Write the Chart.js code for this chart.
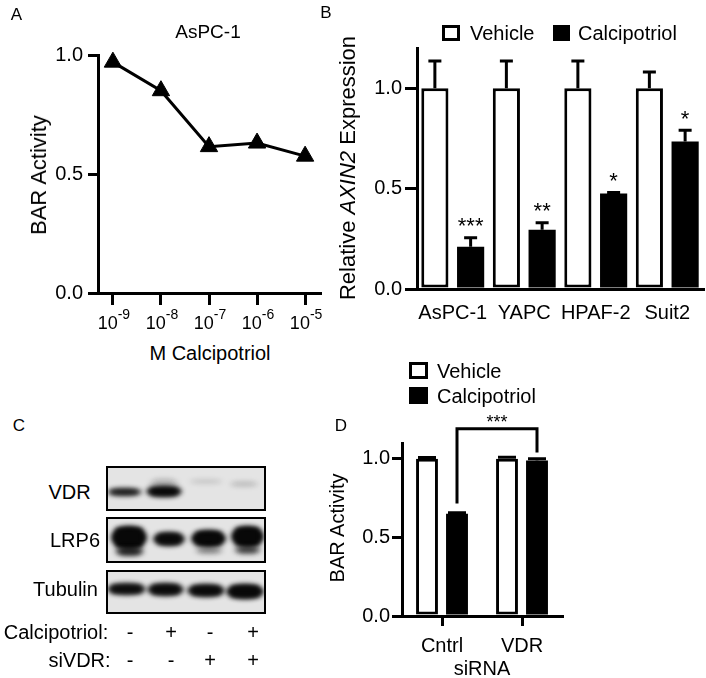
<!DOCTYPE html>
<html>
<head>
<meta charset="utf-8">
<script src="https://cdn.jsdelivr.net/npm/chart.js@4.4.0/dist/chart.umd.min.js"></script>
<style>
  body { margin: 0; background: #fff; }
  #fig { position: relative; width: 706px; height: 678px; overflow: hidden;
         font-family: "Liberation Sans", Arial, sans-serif; color: #000; }
  canvas { position: absolute; }
  .t { position: absolute; white-space: nowrap; line-height: 1; }
  .sq { position: absolute; box-sizing: border-box; border: 3px solid #000; }
</style>
</head>
<body>
<div id="fig">
  <canvas id="blot" width="175" height="160" style="left:100px;top:460px"></canvas>
  <canvas id="chartA" width="340" height="340" style="left:0;top:0"></canvas>
  <canvas id="chartB" width="366" height="340" style="left:340px;top:0"></canvas>
  <canvas id="chartD" width="366" height="338" style="left:340px;top:340px"></canvas>
</div>
<script>
// A: BAR activity vs calcipotriol dose (AsPC-1)
const doseExp = [-9, -8, -7, -6, -5];
const doseBase = '10';
const barActivityA = [0.97, 0.85, 0.615, 0.63, 0.575];
const yTicksA = [0, 0.5, 1.0];

// B: relative AXIN2 expression
const cellLines = ['AsPC-1', 'YAPC', 'HPAF-2', 'Suit2'];
const axinVehicle = [1, 1, 1, 1];
const axinVehicleErr = [0.135, 0.135, 0.135, 0.08];
const axinCalci = [0.21, 0.295, 0.475, 0.735];
const axinCalciErr = [0.045, 0.035, 0.006, 0.055];
const axinStars = ['***', '**', '*', '*'];
const yTicksB = [0, 0.5, 1.0];

// C: western blot lanes
const blotRows = ['VDR', 'LRP6', 'Tubulin'];
const calciSigns = ['-', '+', '-', '+'];
const siVDRSigns = ['-', '-', '+', '+'];

// D: BAR activity with siRNA
const sirnaGroups = ['Cntrl', 'VDR'];
const barVehicleD = [1, 1];
const barVehicleDErr = [0.008, 0.01];
const barCalciD = [0.65, 0.988];
const barCalciDErr = [0.006, 0.012];
const bracketEnds = [0.715, 1.04];
const bracketTop = 1.19;
const bracketLabel = '***';
const yTicksD = [0, 0.5, 1.0];

Chart.defaults.font.family = '"Liberation Sans", Arial, sans-serif';
Chart.defaults.font.size = 20;
Chart.defaults.color = '#000';
Chart.defaults.animation = false;
Chart.defaults.responsive = false;
Chart.defaults.plugins.legend.display = false;
Chart.defaults.plugins.tooltip.enabled = false;

function fixWidth(w) {
  return function(s) { s.width = w; s.paddingLeft = s.paddingRight = s.paddingTop = s.paddingBottom = 0; };
}
function fixHeight(h) {
  return function(s) { s.height = h; s.paddingLeft = s.paddingRight = s.paddingTop = s.paddingBottom = 0; };
}
function setTicks(list) {
  return function(s) { s.ticks = list.map(v => ({value: v})); };
}
function axisGrid(len, draw) {
  return {drawOnChartArea: false, drawTicks: draw, tickLength: len, tickWidth: 3,
          tickColor: '#000', lineWidth: 3, color: '#000'};
}
function yAxis(max, ticks, w, len, pad) {
  return {
    min: 0, max: max,
    afterBuildTicks: setTicks(ticks),
    afterFit: fixWidth(w),
    ticks: {callback: v => v.toFixed(1), padding: pad},
    grid: axisGrid(len, true),
    border: {width: 3, color: '#000'}
  };
}

const errorBars = {
  id: 'errorBars',
  afterDatasetsDraw(chart, args, opts) {
    const ctx = chart.ctx, y = chart.scales.y;
    chart.data.datasets.forEach((ds, i) => {
      if (!ds.errors) return;
      chart.getDatasetMeta(i).data.forEach((bar, j) => {
        const top = y.getPixelForValue(ds.data[j] + ds.errors[j]);
        ctx.save();
        ctx.strokeStyle = '#000';
        ctx.lineWidth = 3;
        ctx.beginPath();
        ctx.moveTo(bar.x, bar.y);
        ctx.lineTo(bar.x, top);
        ctx.moveTo(bar.x - opts.cap / 2, top);
        ctx.lineTo(bar.x + opts.cap / 2, top);
        ctx.stroke();
        if (ds.stars) {
          ctx.fillStyle = '#000';
          ctx.font = opts.starFont;
          ctx.textAlign = 'center';
          ctx.textBaseline = 'alphabetic';
          ctx.fillText(ds.stars[j], bar.x, top - opts.starGap);
        }
        ctx.restore();
      });
    });
  }
};

// power-of-ten labels under the dose axis
const powerLabels = {
  id: 'powerLabels',
  afterDraw(chart) {
    const ctx = chart.ctx, x = chart.scales.x;
    const base = x.top + 36;
    ctx.save();
    ctx.fillStyle = '#000';
    ctx.textBaseline = 'alphabetic';
    ctx.textAlign = 'left';
    doseExp.forEach(e => {
      const exp = String(e);
      ctx.font = '18px "Liberation Sans", Arial';
      const w1 = ctx.measureText(doseBase).width;
      ctx.font = '14px "Liberation Sans", Arial';
      const w2 = ctx.measureText(exp).width;
      const left = x.getPixelForValue(e) - (w1 + w2) / 2 + 1;
      ctx.font = '18px "Liberation Sans", Arial';
      ctx.fillText(doseBase, left, base);
      ctx.font = '14px "Liberation Sans", Arial';
      ctx.fillText(exp, left + w1, base - 10);
    });
    ctx.restore();
  }
};

// panel A
new Chart(document.getElementById('chartA'), {
  type: 'line',
  data: {
    datasets: [{
      data: doseExp.map((x, i) => ({x: x, y: barActivityA[i]})),
      borderColor: '#000',
      borderWidth: 3,
      pointStyle: 'triangle',
      pointRadius: 10,
      pointBackgroundColor: '#000',
      pointBorderColor: '#000',
      pointBorderWidth: 1,
      clip: false
    }]
  },
  options: {
    layout: {padding: {top: 55, right: 20, left: 0, bottom: 0}},
    scales: {
      x: {
        type: 'linear', min: -9.31, max: -4.69,
        afterBuildTicks: setTicks(doseExp),
        afterFit: fixHeight(47),
        ticks: {display: false},
        grid: axisGrid(12, true),
        border: {width: 3, color: '#000'}
      },
      y: yAxis(1.0, yTicksA, 98, 10, 5)
    }
  },
  plugins: [powerLabels]
});

// panel B
new Chart(document.getElementById('chartB'), {
  type: 'bar',
  data: {
    labels: cellLines,
    datasets: [
      {label: 'Vehicle', data: axinVehicle, errors: axinVehicleErr,
       backgroundColor: '#fff', borderColor: '#000', borderWidth: 3, borderSkipped: false,
       categoryPercentage: 1.0, barPercentage: 0.76},
      {label: 'Calcipotriol', data: axinCalci, errors: axinCalciErr, stars: axinStars,
       backgroundColor: '#000', borderWidth: 0,
       categoryPercentage: 1.0, barPercentage: 0.76}
    ]
  },
  options: {
    layout: {padding: {top: 48, right: 3, left: 0, bottom: 0}},
    plugins: {errorBars: {cap: 13, starGap: 4.5, starFont: '22px "Liberation Sans", Arial'}},
    scales: {
      x: {
        afterFit: fixHeight(51),
        ticks: {padding: 12, maxRotation: 0, autoSkip: false},
        grid: axisGrid(0, false),
        border: {width: 3, color: '#000'}
      },
      y: yAxis(1.2, yTicksB, 77, 12, 3)
    }
  },
  plugins: [errorBars]
});

// panel D
const bracketD = {
  id: 'bracketD',
  afterDatasetsDraw(chart) {
    const ctx = chart.ctx, y = chart.scales.y;
    const bars = chart.getDatasetMeta(1).data;
    const xl = bars[0].x, xr = bars[1].x;
    const yt = y.getPixelForValue(bracketTop);
    ctx.save();
    ctx.strokeStyle = '#000';
    ctx.lineWidth = 3;
    ctx.beginPath();
    ctx.moveTo(xl, y.getPixelForValue(bracketEnds[0]));
    ctx.lineTo(xl, yt);
    ctx.lineTo(xr, yt);
    ctx.lineTo(xr, y.getPixelForValue(bracketEnds[1]));
    ctx.stroke();
    ctx.fillStyle = '#000';
    ctx.font = '18px "Liberation Sans", Arial';
    ctx.textAlign = 'center';
    ctx.textBaseline = 'alphabetic';
    ctx.fillText(bracketLabel, (xl + xr) / 2, yt - 1);
    ctx.restore();
  }
};

new Chart(document.getElementById('chartD'), {
  type: 'bar',
  data: {
    labels: sirnaGroups,
    datasets: [
      {label: 'Vehicle', data: barVehicleD, errors: barVehicleDErr,
       backgroundColor: '#fff', borderColor: '#000', borderWidth: 3, borderSkipped: false,
       categoryPercentage: 0.75, barPercentage: 0.73},
      {label: 'Calcipotriol', data: barCalciD, errors: barCalciDErr,
       backgroundColor: '#000', borderWidth: 0,
       categoryPercentage: 0.75, barPercentage: 0.73}
    ]
  },
  options: {
    layout: {padding: {top: 103, right: 144, left: 0, bottom: 0}},
    plugins: {errorBars: {cap: 18, starGap: 0, starFont: '18px "Liberation Sans", Arial'}},
    scales: {
      x: {
        afterFit: fixHeight(62),
        ticks: {padding: 8, maxRotation: 0, autoSkip: false},
        grid: Object.assign(axisGrid(10, true), {offset: false}),
        border: {width: 3, color: '#000'}
      },
      y: yAxis(1.1, yTicksD, 62, 10, 2)
    }
  },
  plugins: [errorBars, bracketD]
});

// panel C: blot picture
const g = document.getElementById('blot').getContext('2d');
g.translate(-100, -460);
const boxes = [[467, 510], [518, 562], [571, 613]];
const bands = [
  // VDR
  [108, 489, 33, 6, 0.8], [147, 487, 34, 9, 0.95], [150, 479, 28, 10, 0.12],
  [190, 480, 32, 3, 0.1], [230, 482, 28, 4, 0.12],
  // LRP6
  [112, 527, 34, 21, 1], [116, 548, 27, 7, 0.7], [154, 533, 30, 12, 0.95],
  [192, 531, 33, 15, 1], [196, 548, 26, 5, 0.3], [232, 527, 31, 19, 1], [235, 547, 25, 6, 0.55],
  // Tubulin
  [108, 584, 37, 10, 0.88], [148, 584, 35, 11, 0.9], [188, 585, 36, 11, 0.92], [227, 585, 36, 13, 0.97]
];
boxes.forEach(b => {
  g.fillStyle = '#e4e4e4';
  g.fillRect(107, b[0], 158, b[1] - b[0]);
});
g.save();
g.beginPath();
boxes.forEach(b => g.rect(107, b[0], 158, b[1] - b[0]));
g.clip();
g.filter = 'blur(2.4px)';
bands.forEach(b => {
  g.fillStyle = 'rgba(8,8,8,' + b[4] + ')';
  g.beginPath();
  g.ellipse(b[0] + b[2] / 2, b[1] + b[3] / 2, b[2] / 2 + 1, b[3] / 2 + 1, 0, 0, Math.PI * 2);
  g.fill();
  g.fillRect(b[0] + 4, b[1] + 1, b[2] - 8, b[3] - 2);
});
g.restore();
g.strokeStyle = '#000';
g.lineWidth = 2;
boxes.forEach(b => g.strokeRect(107, b[0], 158, b[1] - b[0]));

// text
const fig = document.getElementById('fig');
function put(html, x, y, size, mode) {
  const d = document.createElement('div');
  d.className = 't';
  d.innerHTML = html;
  d.style.left = x + 'px';
  d.style.top = y + 'px';
  d.style.fontSize = size + 'px';
  let tf = 'translate(-50%,-50%)';
  if (mode === 'left') tf = 'translate(0,-50%)';
  if (mode === 'rot') tf += ' rotate(-90deg)';
  d.style.transform = tf;
  fig.appendChild(d);
}
function square(x, y, w, h, fill) {
  const d = document.createElement('div');
  d.className = 'sq';
  d.style.cssText = 'left:' + x + 'px;top:' + y + 'px;width:' + w + 'px;height:' + h + 'px;background:' + fill;
  fig.appendChild(d);
}

put('A', 16.5, 13.5, 17);
put('B', 326, 11.5, 17);
put('C', 19, 425, 17);
put('D', 341, 425, 17);

put('AsPC-1', 208, 31, 19);
put('M Calcipotriol', 210, 353, 20);
put('BAR Activity', 38.5, 175, 22, 'rot');

put('Relative <i>AXIN2</i> Expression', 348, 168, 22, 'rot');
square(442, 25, 18, 16, '#fff');
put('Vehicle', 470, 32.5, 20, 'left');
square(553, 25, 17, 16, '#000');
put('Calcipotriol', 578, 32.5, 20, 'left');

const rowCenters = [[69.5, 491.5], [75, 540], [65.5, 588.5]];
blotRows.forEach((r, i) => put(r, rowCenters[i][0], rowCenters[i][1], 20));
put('Calcipotriol:', 56, 632, 20);
put('siVDR:', 79.5, 660, 20);
const laneX = [130, 171, 210, 253];
calciSigns.forEach((s, i) => put(s, laneX[i], 632, 20));
siVDRSigns.forEach((s, i) => put(s, laneX[i], 660, 20));

square(409, 362, 19, 17, '#fff');
put('Vehicle', 437, 371, 20, 'left');
square(409, 387, 19, 17, '#000');
put('Calcipotriol', 437, 396, 20, 'left');
put('BAR Activity', 337, 528, 20, 'rot');
put('siRNA', 482, 668, 20);
</script>
</body>
</html>
